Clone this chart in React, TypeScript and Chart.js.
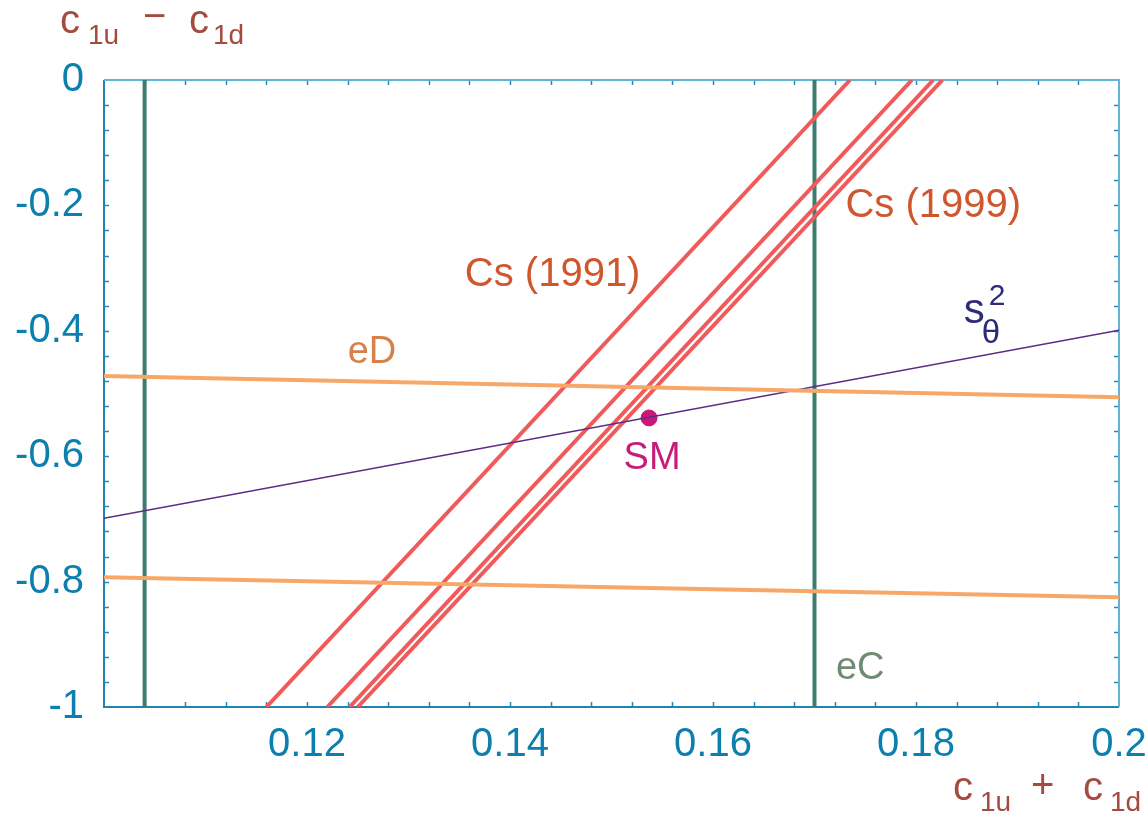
import React, { useEffect, useRef } from "react";
import { Chart, registerables } from "chart.js";

Chart.register(...registerables);

// ---- data ----
const xRange = [0.1, 0.2];
const yRange = [-1, 0];
const xTickValues = [0.12, 0.14, 0.16, 0.18, 0.2];
const xTickLabels = ["0.12", "0.14", "0.16", "0.18", "0.2"];
const yTickValues = [-1, -0.8, -0.6, -0.4, -0.2, 0];
const yTickLabels = ["-1", "-0.8", "-0.6", "-0.4", "-0.2", "0"];
const xMinorStep = 0.004;
const yMinorStep = 0.04;

// eC: vertical lines (x positions)
const eCx = [0.104, 0.17];
// eD: horizontal-ish lines, y at x = 0.1 and x = 0.2
const eDUpper = [-0.472, -0.506];
const eDLower = [-0.793, -0.825];
// s_theta^2 line, y at x = 0.1 and x = 0.2
const sTheta = [-0.699, -0.399];
// Cs lines: x at y = -1 (bottom) and x at y = 0 (top)
const cs1991Bottom = [0.116, 0.122];
const cs1991Top = [0.1735, 0.1796];
const cs1999Bottom = [0.1242, 0.125];
const cs1999Top = [0.1817, 0.1826];
// Standard Model point
const smPoint = { x: 0.1537, y: -0.539 };

// label anchors (data coordinates)
const labels = [
  { text: "Cs (1991)", x: 0.1442, y: -0.311, color: "#d0562e", size: 40 },
  { text: "Cs (1999)", x: 0.1817, y: -0.201, color: "#d0562e", size: 40 },
  { text: "eD", x: 0.1264, y: -0.434, color: "#d8804a", size: 38 },
  { text: "SM", x: 0.1540, y: -0.603, color: "#c81c7a", size: 38 },
  { text: "eC", x: 0.1745, y: -0.938, color: "#6f8c73", size: 38 },
];
const sThetaLabel = { x: 0.1847, y: -0.388 };

const FONT = "'Liberation Sans', Arial, Helvetica, sans-serif";
const TICK_COLOR = "#0b7fad";
const TITLE_COLOR = "#a54a3e";

const RED = "#f15a5a";
const GREEN = "#3c7d6f";
const ORANGE = "#f7a868";
const PURPLE = "#5c2c86";

function seg(x0: number, y0: number, x1: number, y1: number) {
  return [
    { x: x0, y: y0 },
    { x: x1, y: y1 },
  ];
}

const framePlugin = {
  id: "frameTicks",
  beforeDatasetsDraw(chart: any) {
    const { ctx, chartArea: a, scales } = chart;
    const xs = scales.x;
    const ys = scales.y;
    ctx.save();
    // ticks
    ctx.strokeStyle = "#2a88b8";
    ctx.lineWidth = 1.5;
    const tl = 5;
    const nX = Math.round((xRange[1] - xRange[0]) / xMinorStep);
    for (let i = 1; i < nX; i++) {
      const px = Math.round(xs.getPixelForValue(xRange[0] + i * xMinorStep)) + 0.5;
      ctx.beginPath();
      ctx.moveTo(px, a.bottom);
      ctx.lineTo(px, a.bottom - tl);
      ctx.moveTo(px, a.top);
      ctx.lineTo(px, a.top + tl);
      ctx.stroke();
    }
    const nY = Math.round((yRange[1] - yRange[0]) / yMinorStep);
    for (let i = 1; i < nY; i++) {
      const py = Math.round(ys.getPixelForValue(yRange[0] + i * yMinorStep)) + 0.5;
      ctx.beginPath();
      ctx.moveTo(a.left, py);
      ctx.lineTo(a.left + tl, py);
      ctx.moveTo(a.right, py);
      ctx.lineTo(a.right - tl, py);
      ctx.stroke();
    }
    // frame
    ctx.lineWidth = 2;
    ctx.strokeStyle = "#1f84b4";
    ctx.beginPath();
    ctx.moveTo(a.left, a.top);
    ctx.lineTo(a.left, a.bottom);
    ctx.lineTo(a.right, a.bottom);
    ctx.stroke();
    ctx.strokeStyle = "#5fb4d8";
    ctx.beginPath();
    ctx.moveTo(a.left, a.top);
    ctx.lineTo(a.right, a.top);
    ctx.lineTo(a.right, a.bottom);
    ctx.stroke();
    ctx.restore();
  },
  afterDatasetsDraw(chart: any) {
    const { ctx, chartArea: a, scales } = chart;
    const xs = scales.x;
    const ys = scales.y;
    ctx.save();
    ctx.textAlign = "center";
    ctx.textBaseline = "middle";
    for (const l of labels) {
      ctx.fillStyle = l.color;
      ctx.font = `${l.size}px ${FONT}`;
      ctx.fillText(l.text, xs.getPixelForValue(l.x), ys.getPixelForValue(l.y));
    }
    // s_theta^2
    const sx = xs.getPixelForValue(sThetaLabel.x);
    const sy = ys.getPixelForValue(sThetaLabel.y);
    ctx.textAlign = "left";
    ctx.textBaseline = "alphabetic";
    ctx.fillStyle = "#2d2b7a";
    ctx.font = `42px ${FONT}`;
    ctx.fillText("s", sx, sy);
    ctx.font = `33px ${FONT}`;
    ctx.fillText("θ", sx + 18, sy + 20);
    ctx.font = `30px ${FONT}`;
    ctx.fillText("2", sx + 25, sy - 18);

    // axis titles
    ctx.fillStyle = TITLE_COLOR;
    // y title (top-left)
    const tx = a.left - 44;
    const ty = a.top - 47;
    ctx.font = `40px ${FONT}`;
    ctx.fillText("c", tx, ty);
    ctx.font = `28px ${FONT}`;
    ctx.fillText("1u", tx + 28, ty + 11);
    ctx.font = `40px ${FONT}`;
    ctx.fillText("\u2212", tx + 83, ty - 4);
    ctx.fillText("c", tx + 129, ty);
    ctx.font = `28px ${FONT}`;
    ctx.fillText("1d", tx + 153, ty + 11);
    // x title (bottom-right)
    const bx = a.right - 166;
    const by = a.bottom + 93;
    ctx.font = `40px ${FONT}`;
    ctx.fillText("c", bx, by);
    ctx.font = `28px ${FONT}`;
    ctx.fillText("1u", bx + 27, by + 11);
    ctx.font = `40px ${FONT}`;
    ctx.fillText("+", bx + 78, by - 2);
    ctx.fillText("c", bx + 130, by);
    ctx.font = `28px ${FONT}`;
    ctx.fillText("1d", bx + 157, by + 11);
    ctx.restore();
  },
};

export default function App() {
  const ref = useRef<HTMLCanvasElement | null>(null);

  useEffect(() => {
    if (!ref.current) return;
    const lineDs = (data: any[], color: string, width: number) => ({
      data,
      borderColor: color,
      backgroundColor: color,
      borderWidth: width,
      showLine: true,
      pointRadius: 0,
      fill: false,
      tension: 0,
    });
    const datasets: any[] = [
      lineDs(seg(xRange[0], eDUpper[0], xRange[1], eDUpper[1]), ORANGE, 4),
      lineDs(seg(xRange[0], eDLower[0], xRange[1], eDLower[1]), ORANGE, 4),
      lineDs(seg(xRange[0], sTheta[0], xRange[1], sTheta[1]), PURPLE, 1.5),
      ...cs1991Bottom.map((b, i) => lineDs(seg(b, yRange[0], cs1991Top[i], yRange[1]), RED, 4)),
      ...cs1999Bottom.map((b, i) => lineDs(seg(b, yRange[0], cs1999Top[i], yRange[1]), RED, 4)),
      ...eCx.map((x) => lineDs(seg(x, yRange[0], x, yRange[1]), GREEN, 4)),
      {
        data: [smPoint],
        pointRadius: 8,
        pointBackgroundColor: "#c8197a",
        pointBorderColor: "#c8197a",
        showLine: false,
      },
    ];

    const chart = new Chart(ref.current, {
      type: "scatter",
      data: { datasets },
      options: {
        animation: false,
        responsive: false,
        maintainAspectRatio: false,
        layout: { padding: { top: 80, right: 29, left: 0, bottom: 0 } },
        plugins: { legend: { display: false }, tooltip: { enabled: false } },
        scales: {
          x: {
            type: "linear",
            min: xRange[0],
            max: xRange[1],
            grid: { display: false, drawTicks: false },
            border: { display: false },
            afterBuildTicks: (s: any) => {
              s.ticks = xTickValues.map((v) => ({ value: v }));
            },
            afterFit: (s: any) => {
              s.height = 110;
              s.paddingLeft = 0;
              s.paddingRight = 0;
            },
            ticks: {
              color: TICK_COLOR,
              font: { size: 40, family: FONT },
              padding: 14,
              maxRotation: 0,
              autoSkip: false,
              callback: (v: any) => {
                const i = xTickValues.findIndex((t) => Math.abs(t - v) < 1e-9);
                return i >= 0 ? xTickLabels[i] : "";
              },
            },
          },
          y: {
            type: "linear",
            min: yRange[0],
            max: yRange[1],
            grid: { display: false, drawTicks: false },
            border: { display: false },
            afterBuildTicks: (s: any) => {
              s.ticks = yTickValues.map((v) => ({ value: v }));
            },
            afterFit: (s: any) => {
              s.width = 104;
              s.paddingTop = 0;
              s.paddingBottom = 0;
            },
            ticks: {
              color: TICK_COLOR,
              font: { size: 40, family: FONT },
              padding: 20,
              autoSkip: false,
              callback: (v: any) => {
                const i = yTickValues.findIndex((t) => Math.abs(t - v) < 1e-9);
                return i >= 0 ? yTickLabels[i] : "";
              },
            },
          },
        },
      },
      plugins: [framePlugin],
    });
    return () => chart.destroy();
  }, []);

  return (
    <div style={{ position: "fixed", left: 0, top: 0, width: 1148, height: 817, background: "#fff" }}>
      <canvas ref={ref} width={1148} height={817} style={{ display: "block" }} />
    </div>
  );
}
